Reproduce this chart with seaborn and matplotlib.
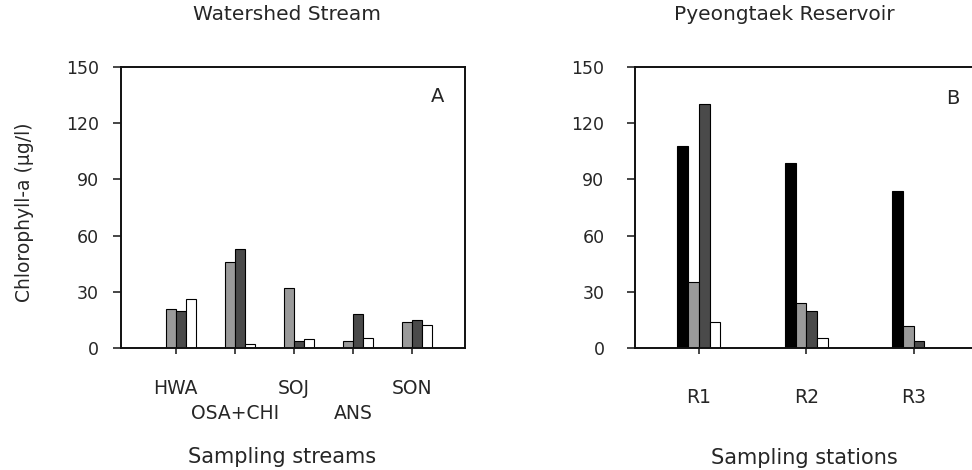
import matplotlib
matplotlib.use("Agg")
import matplotlib.pyplot as plt
import numpy as np
import pandas as pd
import seaborn as sns

# ---------------- data ----------------
series = ["Series 1", "Series 2", "Series 3", "Series 4"]
palette = ["#000000", "#9a9a9a", "#4a4a4a", "#ffffff"]

streams = ["HWA", "OSA+CHI", "SOJ", "ANS", "SON"]
stream_s1 = [0, 0, 0, 0, 0]
stream_s2 = [21, 46, 32, 4, 14]
stream_s3 = [20, 53, 4, 18, 15]
stream_s4 = [26, 2, 5, 5.5, 12.5]

stations = ["R1", "R2", "R3"]
station_s1 = [108, 98.5, 84]
station_s2 = [35, 24, 12]
station_s3 = [130, 20, 4]
station_s4 = [14, 5.5, 0]

yticks = [0, 30, 60, 90, 120, 150]


def long_df(cats, vals):
    rows = []
    for s, v in zip(series, vals):
        for c, x in zip(cats, v):
            rows.append({"cat": c, "series": s, "value": x})
    return pd.DataFrame(rows)


df_a = long_df(streams, [stream_s1, stream_s2, stream_s3, stream_s4])
df_b = long_df(stations, [station_s1, station_s2, station_s3, station_s4])

sns.set_style("ticks")
plt.rcParams["font.family"] = ["DejaVu Sans"]
txt = "#262626"

W, H = 972, 470
fig = plt.figure(figsize=(W / 100, H / 100), dpi=100)


def px_axes(l, t, r, b):
    return fig.add_axes([l / W, 1 - b / H, (r - l) / W, (b - t) / H])


ax_a = px_axes(121, 67, 465, 348)
ax_b = px_axes(635, 67, 991, 348)

for ax, df, cats, width in [(ax_a, df_a, streams, 0.68), (ax_b, df_b, stations, 0.40)]:
    sns.barplot(data=df, x="cat", y="value", hue="series", order=cats,
                hue_order=series, palette=palette, width=width,
                edgecolor="black", linewidth=0.8, saturation=1,
                legend=False, ax=ax, errorbar=None)
    ax.set_ylim(0, 150)
    ax.set_yticks(yticks)
    ax.set_xlabel("")
    ax.set_ylabel("")
    for sp in ax.spines.values():
        sp.set_visible(True)
        sp.set_linewidth(1.4)
        sp.set_color("#111111")
    ax.tick_params(axis="y", direction="out", length=6, width=1.2,
                   labelsize=12.5, labelcolor=txt)
    ax.tick_params(axis="x", which="both", direction="out", length=4, width=1.2,
                   labelsize=13.5, labelcolor=txt)

ax_a.set_xlim(-0.93, 4.9)
ax_b.set_xlim(-0.595, 2.72)

# staggered stream labels: even positions on the first row, odd on the second
row1 = [i for i in range(len(streams)) if i % 2 == 0]
row2 = [i for i in range(len(streams)) if i % 2 == 1]
ax_a.set_xticks(row1)
ax_a.set_xticklabels([streams[i] for i in row1])
ax_a.set_xticks(row2, minor=True)
ax_a.set_xticklabels([streams[i] for i in row2], minor=True)
ax_a.tick_params(axis="x", which="major", pad=18)
ax_a.tick_params(axis="x", which="minor", pad=36)
ax_a.tick_params(axis="y", pad=10)

ax_b.set_xticks(range(len(stations)))
ax_b.set_xticklabels(stations)
ax_b.tick_params(axis="x", pad=25)
ax_b.tick_params(axis="y", pad=16)

# titles / labels
fig.text(287 / W, 1 - 15 / H, "Watershed Stream", ha="center", va="center",
         fontsize=14.5, color=txt)
fig.text(784 / W, 1 - 15 / H, "Pyeongtaek Reservoir", ha="center", va="center",
         fontsize=14.5, color=txt)
fig.text(282 / W, 1 - 457 / H, "Sampling streams", ha="center", va="center",
         fontsize=15, color=txt)
fig.text(804 / W, 1 - 458 / H, "Sampling stations", ha="center", va="center",
         fontsize=15, color=txt)
fig.text(25 / W, 1 - 212 / H, "Chlorophyll-a (μg/l)", ha="center", va="center",
         rotation=90, fontsize=13.5, color=txt)
fig.text(438 / W, 1 - 97 / H, "A", ha="center", va="center", fontsize=14, color=txt)
fig.text(953 / W, 1 - 99 / H, "B", ha="center", va="center", fontsize=14, color=txt)

fig.savefig("out.png", dpi=100, facecolor="white")
